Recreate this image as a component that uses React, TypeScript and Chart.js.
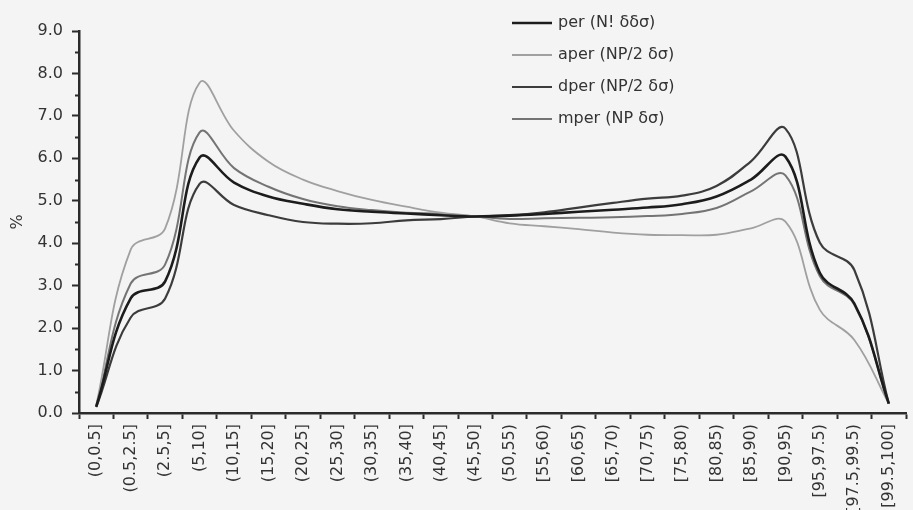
import React, { useEffect, useRef } from "react";
import { Chart, registerables } from "chart.js";

Chart.register(...registerables);

const categories = [
  "(0,0.5]", "(0.5,2.5]", "(2.5,5]", "(5,10]", "(10,15]", "(15,20]", "(20,25]", "(25,30]",
  "(30,35]", "(35,40]", "(40,45]", "(45,50]", "(50,55)", "[55,60)", "[60,65)", "[65,70)",
  "[70,75)", "[75,80)", "[80,85)", "[85,90)", "[90,95)", "[95,97.5)", "[97.5,99.5)", "[99.5,100]",
];

const perValues = [0.15, 2.7, 3.1, 6.02, 5.43, 5.1, 4.93, 4.8, 4.74, 4.7, 4.66, 4.63, 4.65, 4.69, 4.74, 4.79, 4.84, 4.92, 5.1, 5.5, 6.04, 3.3, 2.58, 0.22];
const aperValues = [0.18, 3.85, 4.35, 7.78, 6.65, 5.92, 5.5, 5.23, 5.02, 4.86, 4.72, 4.63, 4.47, 4.4, 4.33, 4.25, 4.2, 4.19, 4.2, 4.35, 4.51, 2.43, 1.72, 0.22];
const dperValues = [0.14, 2.25, 2.7, 5.4, 4.9, 4.66, 4.5, 4.46, 4.47, 4.54, 4.57, 4.63, 4.66, 4.73, 4.84, 4.95, 5.05, 5.12, 5.35, 5.93, 6.7, 4.01, 3.37, 0.22];
const mperValues = [0.16, 3.05, 3.5, 6.61, 5.77, 5.33, 5.04, 4.87, 4.78, 4.72, 4.69, 4.63, 4.57, 4.59, 4.6, 4.61, 4.64, 4.69, 4.83, 5.22, 5.6, 3.22, 2.55, 0.22];

const seriesLabels = ["per (N! δδσ)", "aper (NP/2 δσ)", "dper (NP/2 δσ)", "mper (NP δσ)"];
const seriesColors = ["#1c1c1c", "#a0a0a0", "#3c3c3c", "#747474"];
const seriesWidths = [2.6, 1.8, 2.2, 2.0];

const yMin = 0;
const yMax = 9;
const yMajorStep = 1;
const yMinorStep = 0.5;
const yTitle = "%";

const FONT = "'DejaVu Sans', sans-serif";
const AXIS = "#2b2b2b";

const bgPlugin = {
  id: "bg",
  beforeDraw(chart: any) {
    const ctx = chart.ctx;
    ctx.save();
    ctx.fillStyle = "#f4f4f4";
    ctx.fillRect(0, 0, chart.width, chart.height);
    ctx.restore();
  },
};

const minorTickPlugin = {
  id: "minorTicks",
  afterDraw(chart: any) {
    const y = chart.scales.y;
    const ctx = chart.ctx;
    ctx.save();
    ctx.strokeStyle = AXIS;
    ctx.lineWidth = 2;
    for (let v = yMin + yMinorStep; v < yMax; v += yMajorStep) {
      const py = Math.round(y.getPixelForValue(v)) + 0.5;
      ctx.beginPath();
      ctx.moveTo(y.right - 4, py);
      ctx.lineTo(y.right, py);
      ctx.stroke();
    }
    ctx.restore();
  },
};

const legendPlugin = {
  id: "customLegend",
  afterDraw(chart: any) {
    const ctx = chart.ctx;
    ctx.save();
    ctx.font = `16px ${FONT}`;
    ctx.textBaseline = "middle";
    ctx.fillStyle = "#333";
    chart.data.datasets.forEach((ds: any, i: number) => {
      const yy = 23 + i * 32;
      ctx.strokeStyle = ds.borderColor;
      ctx.lineWidth = ds.borderWidth;
      ctx.beginPath();
      ctx.moveTo(512, yy);
      ctx.lineTo(552, yy);
      ctx.stroke();
      ctx.fillText(ds.label, 558, yy);
    });
    ctx.restore();
  },
};

export default function App() {
  const ref = useRef<HTMLCanvasElement | null>(null);

  useEffect(() => {
    if (!ref.current) return;
    const seriesValues = [perValues, aperValues, dperValues, mperValues];
    const chart = new Chart(ref.current, {
      type: "line",
      data: {
        labels: categories,
        datasets: seriesLabels.map((label, i) => ({
          label,
          data: seriesValues[i],
          borderColor: seriesColors[i],
          backgroundColor: seriesColors[i],
          borderWidth: seriesWidths[i],
          pointRadius: 0,
          tension: 0.4,
          fill: false,
        })),
      },
      options: {
        animation: false,
        responsive: false,
        devicePixelRatio: 1,
        layout: { padding: { top: 31, left: 0, right: 0, bottom: 0 } },
        plugins: {
          legend: { display: false },
          tooltip: { enabled: false },
        },
        scales: {
          x: {
            type: "category",
            offset: true,
            grid: {
              offset: true,
              drawOnChartArea: false,
              drawTicks: true,
              tickLength: 6,
              tickColor: AXIS,
              tickWidth: 2,
            },
            border: { display: true, color: AXIS, width: 2.5 },
            ticks: {
              autoSkip: false,
              maxRotation: 90,
              minRotation: 90,
              padding: 5,
              color: "#333",
              font: { family: FONT, size: 16 },
            },
            afterFit(scale: any) {
              scale.height = 97;
            },
          },
          y: {
            min: yMin,
            max: yMax,
            grid: {
              drawOnChartArea: false,
              drawTicks: true,
              tickLength: 7,
              tickColor: AXIS,
              tickWidth: 2,
            },
            border: { display: true, color: AXIS, width: 2.5 },
            ticks: {
              stepSize: yMajorStep,
              padding: 9,
              color: "#333",
              font: { family: FONT, size: 16 },
              callback: (v: any) => Number(v).toFixed(1),
            },
            title: {
              display: true,
              text: yTitle,
              color: "#333",
              font: { family: FONT, size: 16 },
              padding: { top: 8, bottom: 0 },
            },
            afterFit(scale: any) {
              scale.width = 79;
            },
          },
        },
      },
      plugins: [bgPlugin, minorTickPlugin, legendPlugin],
    } as any);
    return () => chart.destroy();
  }, []);

  return (
    <div style={{ position: "absolute", left: 0, top: 0, width: 913, height: 510 }}>
      <canvas ref={ref} width={913} height={510} />
    </div>
  );
}
